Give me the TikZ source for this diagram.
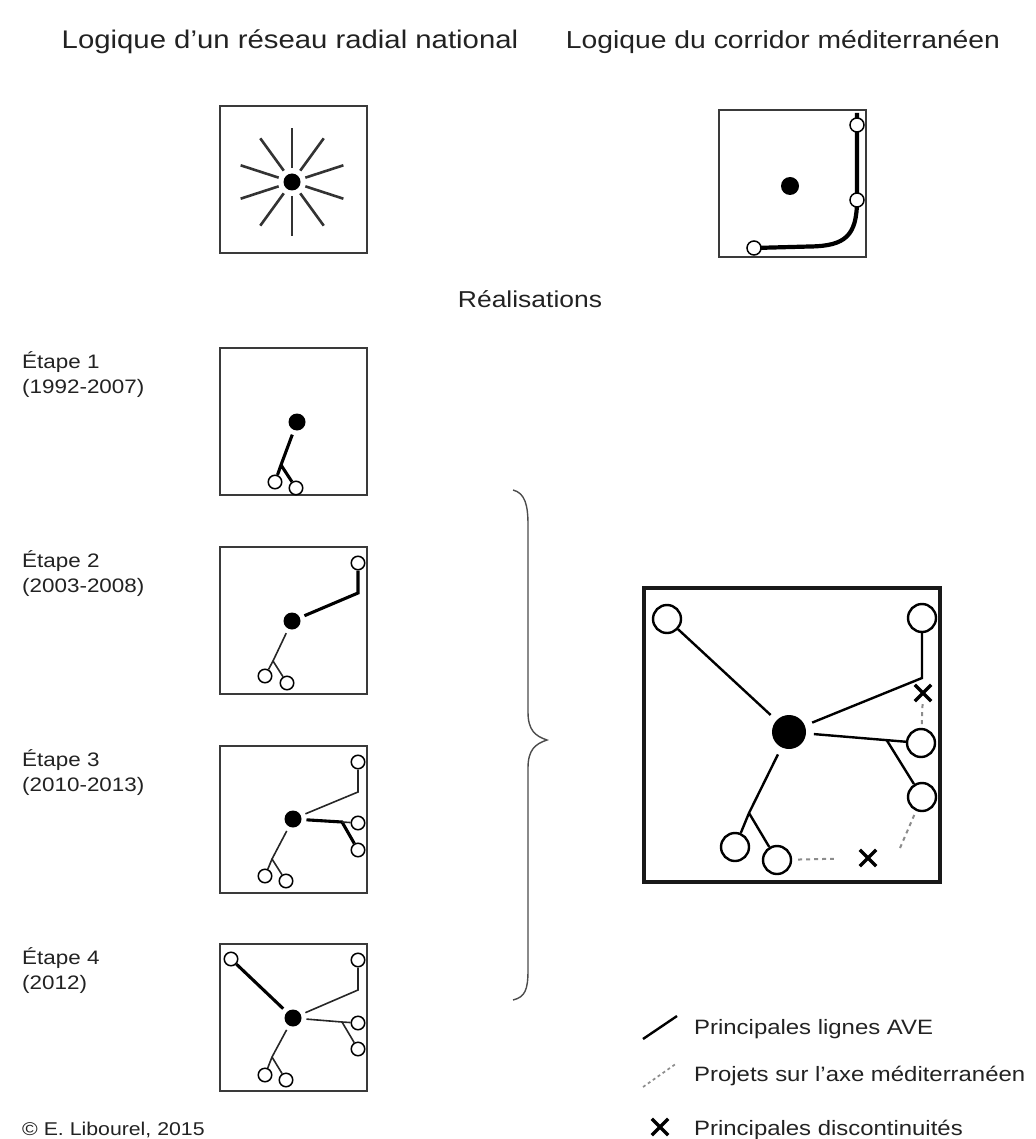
\documentclass[tikz,border=0pt]{standalone}
\usepackage{fontspec}
\setmainfont{Liberation Sans}[FakeStretch=1.15]
\usetikzlibrary{calc,shapes.misc}
\definecolor{ink}{HTML}{222222}
\definecolor{frm}{HTML}{3A3A3A}

\begin{document}
\begin{tikzpicture}[x=1pt,y=-1pt,
    frame/.style={draw=frm,line width=2.2pt},
    hub/.style={circle,fill=black,inner sep=0pt,minimum size=17pt,outer sep=5pt},
    stn/.style={circle,draw=black,fill=white,line width=1.5pt,inner sep=0pt,minimum size=13.5pt},
    bigstn/.style={stn,line width=2.4pt,minimum size=28pt},
    ray/.style={draw=black!80,line width=2.6pt},
    ave/.style={draw=black!85,line width=1.6pt},
    avethick/.style={draw=black,line width=3.1pt},
    bigave/.style={draw=black,line width=2.4pt},
    proj/.style={draw=black!45,line width=2pt,dash pattern=on 4pt off 4pt},
    cut/.style={cross out,draw=black,line width=3.3pt,inner sep=0pt,minimum size=13pt},
    txt/.style={text=ink,inner sep=0pt}]

      \useasboundingbox (0,0) rectangle (1035,1139);

      \begin{scope}[every node/.style={txt,anchor=base}]
        \node[font=\fontsize{25.5}{29}\selectfont] (t1) at (290,49) {Logique d’un réseau radial national};
        \node[font=\fontsize{24.6}{28}\selectfont] (t2) at (783,49) {Logique du corridor méditerranéen};
        \node[font=\fontsize{23}{27}\selectfont] (t3) at (530,308) {Réalisations};
      \end{scope}

      \begin{scope}[every node/.style={txt,anchor=base west,font=\fontsize{19.5}{24}\selectfont}]
        \foreach \n/\yr/\y in {1/1992-2007/368,2/2003-2008/567,3/2010-2013/766,4/2012/964} {
          \node (e\n) at (22,\y) {Étape \n};
          \node (d\n) at (22,\y+25) {(\yr)};
        }
        \node[font=\fontsize{18.5}{21}\selectfont] (cr) at (22,1135) {© E. Libourel, 2015};
        \node[font=\fontsize{20.8}{24}\selectfont] (g1) at (694,1034) {Principales lignes AVE};
        \node[font=\fontsize{20.8}{24}\selectfont] (g2) at (694,1081) {Projets sur l’axe méditerranéen};
        \node[font=\fontsize{20.8}{24}\selectfont] (g3) at (694,1135) {Principales discontinuités};
      \end{scope}

      \draw[frame] (220,106) rectangle (367,253);
      \draw[frame] (719,110) rectangle (866,257);
      \foreach \y in {348,547,746,944}
        \draw[frame] (220,\y) rectangle ++(147,147);
      \draw[frame,draw=black!90,line width=3.2pt] (644,588) rectangle (940,882);

      \node[hub] (r0) at (292,182) {};
      \foreach \a in {90,126,...,414}
        \draw[ray] ($(r0)+(\a:14)$) -- ($(r0)+(\a:54)$);

      \node[hub,minimum size=18pt] (c0) at (790,186) {};
      \coordinate (m0) at (857,113);
      \coordinate (m1) at (857,125);
      \coordinate (m2) at (857,200);
      \coordinate (m3) at (754,248);
      \draw[line width=4.2pt] (m0) -- (m2) .. controls (857,236) and (845,246) .. (810,246.5) -- (m3);
      \begin{scope}[every node/.style={stn,minimum size=14pt}]
        \node (c1) at (m1) {};
        \node (c2) at (m2) {};
        \node (c3) at (m3) {};
      \end{scope}

      \node[hub] (h1) at (297,422) {};
      \node[hub] (h2) at (292,621) {};
      \node[hub] (h3) at (293,819) {};
      \node[hub] (h4) at (293,1018) {};
      \begin{scope}[every node/.style={stn}]
        \node (s1a) at (275,482) {};
        \node (s1b) at (296,488) {};
        \node (s2a) at (265,676) {};
        \node (s2b) at (287,683) {};
        \node (s2c) at (358,563) {};
        \node (s3a) at (265,876) {};
        \node (s3b) at (286,881) {};
        \node (s3c) at (358,762) {};
        \node (s3d) at (358,823) {};
        \node (s3e) at (358,850) {};
        \node (s4a) at (265,1075) {};
        \node (s4b) at (286,1080) {};
        \node (s4c) at (358,960) {};
        \node (s4d) at (358,1023) {};
        \node (s4e) at (358,1049) {};
        \node (s4f) at (231,959) {};
      \end{scope}
      \coordinate (j1) at (281,465);
      \coordinate (j2) at (273,661);
      \coordinate (k2) at (358,593);
      \coordinate (j3) at (272,859);
      \coordinate (k3) at (358,792);
      \coordinate (q3) at (342,822);
      \coordinate (j4) at (272,1057);
      \coordinate (k4) at (358,990);
      \coordinate (q4) at (342,1022);

      \draw[avethick] (h1) -- (j1) -- (s1a) (j1) -- (s1b);

      \draw[avethick] (h2) -- (k2) -- (s2c);
      \draw[ave] (h2) -- (j2) -- (s2a) (j2) -- (s2b);

      \draw[ave] (h3) -- (k3) -- (s3c);
      \draw[avethick] (h3) -- (q3) -- (s3e);
      \draw[ave] (q3) -- (s3d);
      \draw[ave] (h3) -- (j3) -- (s3a) (j3) -- (s3b);

      \draw[avethick] (s4f) -- (h4);
      \draw[ave] (h4) -- (k4) -- (s4c);
      \draw[ave] (h4) -- (q4) -- (s4d) (q4) -- (s4e);
      \draw[ave] (h4) -- (j4) -- (s4a) (j4) -- (s4b);

      \node[hub,minimum size=34pt,outer sep=8pt] (H) at (789,732) {};
      \begin{scope}[every node/.style={bigstn}]
        \node (B1) at (667,619) {};
        \node (B2) at (922,618) {};
        \node (B3) at (921,743) {};
        \node (B4) at (922,797) {};
        \node (B5) at (735,847) {};
        \node (B6) at (777,860) {};
      \end{scope}
      \node[cut] (X1) at (923,693) {};
      \node[cut] (X2) at (868,858) {};
      \coordinate (p1) at (922,678);
      \coordinate (p2) at ($(H)!0.74!(B3)$);
      \coordinate (p3) at (749,813);
      \coordinate (p4) at (900,848);

      \draw[bigave] (H) -- (B1);
      \draw[bigave] (B2) -- (p1) -- (H);
      \draw[bigave] (H) -- (B3);
      \draw[bigave] (p2) -- (B4);
      \draw[bigave] (H) -- (p3) -- (B5) (p3) -- (B6);
      \draw[proj,shorten <=3pt] (X1) -- (B3);
      \draw[proj,shorten <=6pt,shorten >=26pt] (B6) -- (X2);
      \draw[proj,shorten >=4pt] (p4) -- (B4);

      \draw[draw=black!70,line width=1.4pt] (513,490) .. controls (525,493) and (528,505) .. (528,525)
        -- (528,712) .. controls (528,730) and (535,736) .. (547,740)
        .. controls (535,744) and (528,750) .. (528,768)
        -- (528,970) .. controls (528,990) and (525,997) .. (513,1000);

      \coordinate (la) at (643,1039);
      \coordinate (lb) at (677,1016);
      \coordinate (lc) at (643,1087);
      \coordinate (ld) at (677,1063);
      \draw[bigave] (la) -- (lb);
      \draw[proj,line width=1.7pt,dash pattern=on 3pt off 3pt] (lc) -- (ld);
      \node[cut] (lx) at (660,1127) {};

    \end{tikzpicture}
\end{document}
